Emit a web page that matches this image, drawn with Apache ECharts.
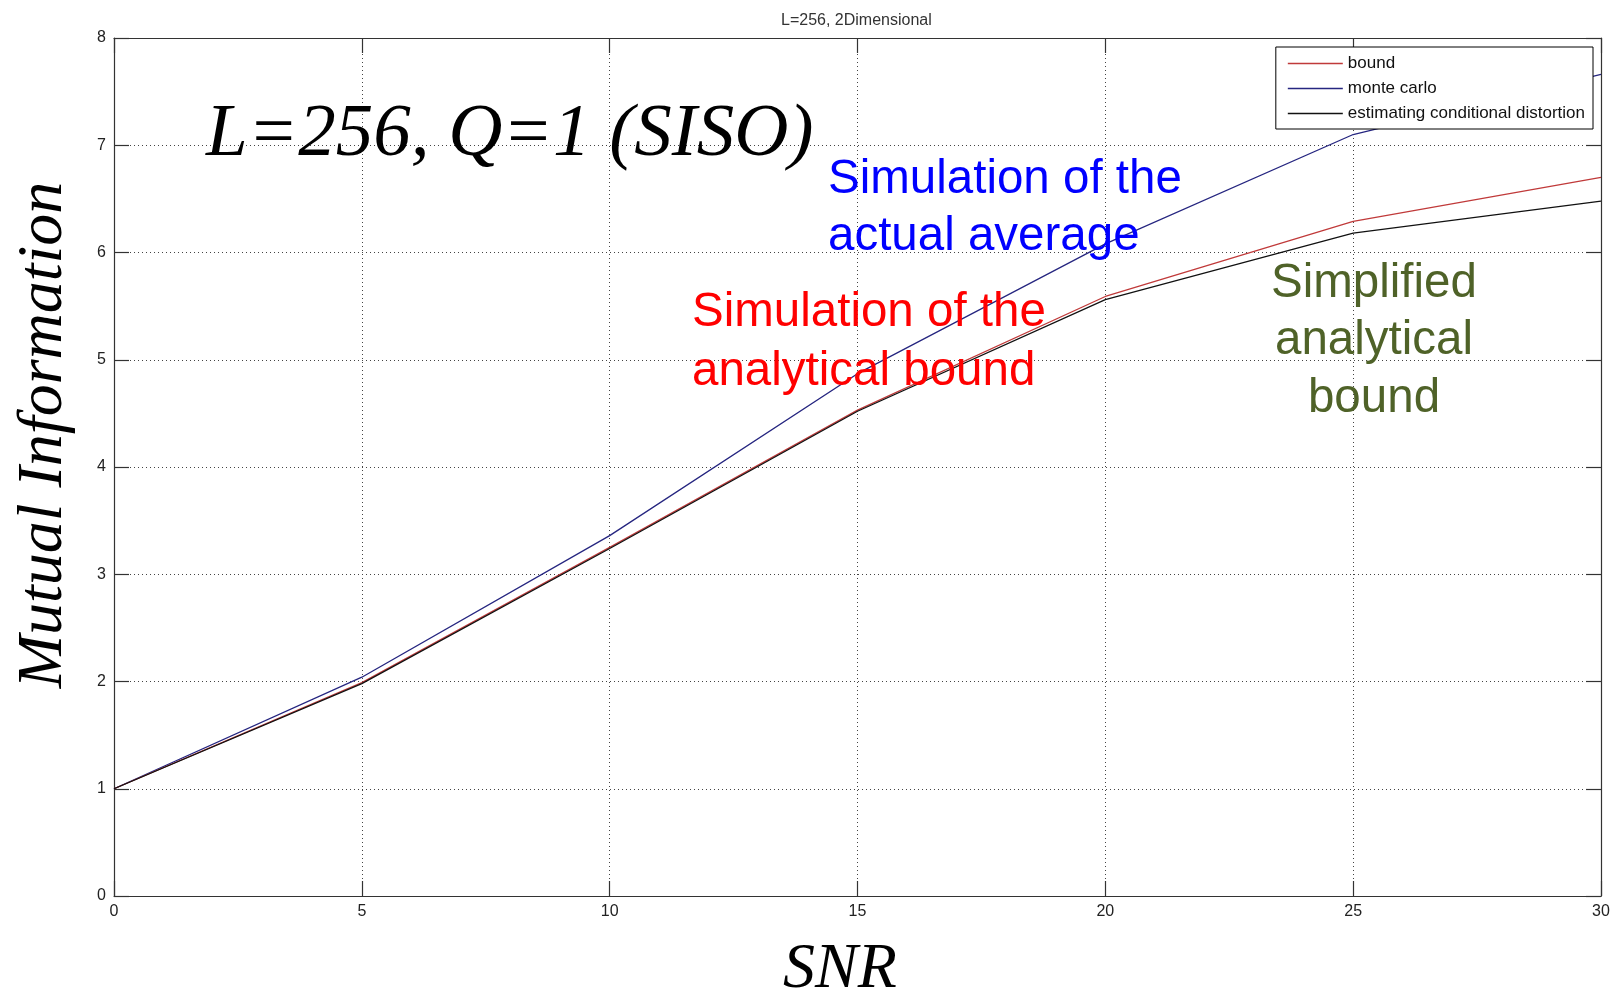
<!DOCTYPE html>
<html>
<head>
<meta charset="utf-8">
<script src="https://cdn.jsdelivr.net/npm/echarts@6/dist/echarts.min.js"></script>
<style>
html,body{margin:0;padding:0;background:#fff;}
#chart{width:1619px;height:989px;}
</style>
</head>
<body>
<div id="chart"></div>
<script>
// ---- data ----
const snr = [0, 5, 10, 15, 20, 25, 30];
const boundVals = [1.0, 1.99, 3.25, 4.53, 5.59, 6.29, 6.70];
const monteCarloVals = [1.0, 2.04, 3.36, 4.87, 6.08, 7.10, 7.66];
const estimatingVals = [1.0, 1.98, 3.24, 4.52, 5.56, 6.18, 6.48];
const seriesNames = ['bound', 'monte carlo', 'estimating conditional distortion'];
const chartTitle = 'L=256, 2Dimensional';
const xName = 'SNR';
const yName = 'Mutual Information';
const annoMain = 'L=256, Q=1 (SISO)';
const annoBlue = ['Simulation of the', 'actual average'];
const annoRed = ['Simulation of the', 'analytical bound'];
const annoGreen = ['Simplified', 'analytical', 'bound'];

function pairs(xs, ys) { return xs.map((x, i) => [x, ys[i]]); }

const chart = echarts.init(document.getElementById('chart'), null, {renderer: 'canvas'});

const tickFont = {fontFamily: '"Liberation Sans", Arial, sans-serif', fontSize: 16, color: '#222'};
const axisLineStyle = {color: '#333', width: 1.2};

const option = {
  backgroundColor: '#fff',
  animation: false,
  title: {
    text: chartTitle,
    left: 776, top: 8,
    textStyle: {fontFamily: '"Liberation Sans", Arial, sans-serif', fontSize: 16, fontWeight: 'normal', color: '#333'}
  },
  grid: {left: 114, right: 18, top: 38, bottom: 93, containLabel: false, outerBoundsMode: 'none'},
  legend: {
    data: seriesNames,
    orient: 'vertical',
    right: 26, top: 47,
    backgroundColor: '#fff',
    borderColor: '#000', borderWidth: 1,
    padding: [8, 8, 7, 12],
    itemGap: 8,
    itemWidth: 55, itemHeight: 1.5,
    icon: 'rect',
    textStyle: {fontFamily: '"Liberation Sans", Arial, sans-serif', fontSize: 17, color: '#111'}
  },
  xAxis: [{
    type: 'value', min: 0, max: 30, interval: 5, position: 'bottom',
    name: xName, nameLocation: 'middle', nameGap: 42,
    nameTextStyle: {fontFamily: '"Liberation Serif", "Times New Roman", serif', fontStyle: 'italic', fontSize: 64, color: '#000', padding: [0, 35, 0, 0]},
    axisLine: {show: true, onZero: false, lineStyle: axisLineStyle},
    axisTick: {show: true, inside: true, length: 15, lineStyle: axisLineStyle},
    axisLabel: Object.assign({margin: 8}, tickFont),
    splitLine: {show: true, lineStyle: {color: '#444', type: [1, 3], width: 1}}
  }, {
    type: 'value', min: 0, max: 30, interval: 5, position: 'top',
    axisLine: {show: true, onZero: false, lineStyle: axisLineStyle},
    axisTick: {show: true, inside: true, length: 15, lineStyle: axisLineStyle},
    axisLabel: {show: false},
    splitLine: {show: false}
  }],
  yAxis: [{
    type: 'value', min: 0, max: 8, interval: 1, position: 'left',
    name: yName, nameLocation: 'middle', nameGap: 38, nameRotate: 90,
    nameTextStyle: {fontFamily: '"Liberation Serif", "Times New Roman", serif', fontStyle: 'italic', fontSize: 64, color: '#000', padding: [0, 0, 0, 64]},
    axisLine: {show: true, onZero: false, lineStyle: axisLineStyle},
    axisTick: {show: true, inside: true, length: 15, lineStyle: axisLineStyle},
    axisLabel: Object.assign({margin: 8}, tickFont),
    splitLine: {show: true, lineStyle: {color: '#444', type: [1, 3], width: 1}}
  }, {
    type: 'value', min: 0, max: 8, interval: 1, position: 'right',
    axisLine: {show: true, onZero: false, lineStyle: axisLineStyle},
    axisTick: {show: true, inside: true, length: 15, lineStyle: axisLineStyle},
    axisLabel: {show: false},
    splitLine: {show: false}
  }],
  series: [
    {name: seriesNames[1], type: 'line', data: pairs(snr, monteCarloVals), symbol: 'none', z: 3,
     lineStyle: {color: '#262680', width: 1.3}, itemStyle: {color: '#262680'}},
    {name: seriesNames[0], type: 'line', data: pairs(snr, boundVals), symbol: 'none', z: 3,
     lineStyle: {color: '#c03a3a', width: 1.3}, itemStyle: {color: '#c03a3a'}},
    {name: seriesNames[2], type: 'line', data: pairs(snr, estimatingVals), symbol: 'none', z: 4,
     lineStyle: {color: '#111', width: 1.3}, itemStyle: {color: '#111'}}
  ],
  graphic: [
    {type: 'text', left: 206, top: 131 - 33, z: 10,
     style: {text: annoMain, font: 'italic 75px "Liberation Serif", "Times New Roman", serif', fill: '#000'}},
    {type: 'text', left: 828, top: 176 - 25, z: 10,
     style: {text: annoBlue.join('\n'), font: '47.5px "Liberation Sans", Arial, sans-serif', fill: '#0000ff', lineHeight: 57}},
    {type: 'text', left: 692, top: 310 - 27, z: 10,
     style: {text: annoRed.join('\n'), font: '47.5px "Liberation Sans", Arial, sans-serif', fill: '#ff0000', lineHeight: 59}},
    {type: 'text', x: 1374, y: 281 - 26, z: 10,
     style: {text: annoGreen.join('\n'), font: '47.5px "Liberation Sans", Arial, sans-serif', fill: '#4f6228', lineHeight: 57.5, align: 'center', verticalAlign: 'top'}}
  ]
};
chart.setOption(option);
</script>
</body>
</html>
